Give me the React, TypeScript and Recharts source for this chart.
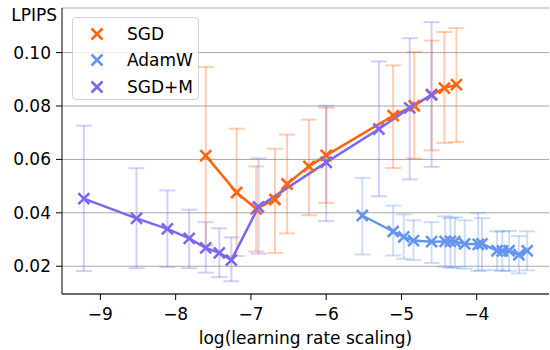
import { ComposedChart, Line, XAxis, YAxis, CartesianGrid, ErrorBar, ReferenceArea } from 'recharts'

const FONT = '"DejaVu Sans", sans-serif'

const SGD_COLOR = '#ff6410'
const ADAMW_COLOR = '#6495ed'
const SGDM_COLOR = '#7b68ee'

// SGD
const sgdX = [-7.6, -7.19, -6.93, -6.68, -6.52, -6.23, -6.0, -5.11, -4.83, -4.6, -4.43, -4.27]
const sgdY = [0.0614, 0.0476, 0.0415, 0.045, 0.0508, 0.0574, 0.0615, 0.0764, 0.0801, 0.0842, 0.0867, 0.088]
const sgdLo = [0.0278, 0.0238, 0.0255, 0.025, 0.0323, 0.0391, 0.0437, 0.0568, 0.0603, 0.0634, 0.0662, 0.0665]
const sgdHi = [0.0946, 0.0715, 0.0574, 0.064, 0.0693, 0.0749, 0.0793, 0.0952, 0.1002, 0.1045, 0.1077, 0.1092]

// AdamW
const adamX = [-5.52, -5.11, -4.97, -4.84, -4.6, -4.42, -4.35, -4.29, -4.16, -3.98, -3.93, -3.73, -3.66, -3.57, -3.44, -3.33]
const adamY = [0.039, 0.033, 0.031, 0.0296, 0.0292, 0.0293, 0.0293, 0.0292, 0.0284, 0.0282, 0.0284, 0.0258, 0.0257, 0.0258, 0.0243, 0.0258]
const adamLo = [0.0244, 0.024, 0.0228, 0.0223, 0.0212, 0.0198, 0.0194, 0.0196, 0.0191, 0.0182, 0.0185, 0.0185, 0.0182, 0.0183, 0.0173, 0.0185]
const adamHi = [0.0531, 0.0427, 0.0394, 0.0372, 0.0365, 0.0387, 0.038, 0.0383, 0.0372, 0.04, 0.038, 0.0331, 0.033, 0.0332, 0.0313, 0.0331]

// SGD+M
const sgdmX = [-9.22, -8.52, -8.11, -7.82, -7.6, -7.42, -7.26, -6.9, -6.0, -5.3, -4.89, -4.6]
const sgdmY = [0.0453, 0.0379, 0.034, 0.0304, 0.0269, 0.025, 0.0223, 0.0422, 0.0589, 0.0714, 0.0793, 0.0842]
const sgdmLo = [0.0182, 0.0193, 0.0197, 0.0193, 0.0176, 0.0159, 0.0144, 0.0247, 0.0369, 0.0462, 0.0525, 0.0572]
const sgdmHi = [0.0726, 0.0567, 0.0484, 0.0412, 0.0365, 0.0342, 0.0308, 0.0604, 0.0801, 0.0967, 0.1054, 0.1114]

const xTicks = [-9, -8, -7, -6, -5, -4]
const yTicks = [0.02, 0.04, 0.06, 0.08, 0.1]

const build = (xs: number[], ys: number[], lo: number[], hi: number[]) =>
  xs.map((x, i) => ({ x, y: ys[i], err: [ys[i] - lo[i], hi[i] - ys[i]] }))

const sgd = build(sgdX, sgdY, sgdLo, sgdHi)
const adam = build(adamX, adamY, adamLo, adamHi)
const sgdm = build(sgdmX, sgdmY, sgdmLo, sgdmHi)

const series = [
  { name: 'SGD', data: sgd, color: SGD_COLOR },
  { name: 'AdamW', data: adam, color: ADAMW_COLOR },
  { name: 'SGD+M', data: sgdm, color: SGDM_COLOR },
]

function Cross({ cx, cy, color, r = 5.5 }: { cx?: number; cy?: number; color: string; r?: number }) {
  if (cx == null || cy == null) return null
  return (
    <g>
      <line x1={cx - r} y1={cy - r} x2={cx + r} y2={cy + r} stroke={color} strokeWidth={2.6} />
      <line x1={cx - r} y1={cy + r} x2={cx + r} y2={cy - r} stroke={color} strokeWidth={2.6} />
    </g>
  )
}

const fmtX = (v: number) => (v < 0 ? `\u2212${Math.abs(v)}` : `${v}`)

export default function App() {
  return (
    <div style={{ position: 'absolute', left: 0, top: 0, width: 550, height: 350, background: '#fff' }}>
      <ComposedChart width={550} height={350} margin={{ top: 8, right: 1, left: 0, bottom: 0 }}>
        <CartesianGrid vertical={false} stroke="#a8a8a8" strokeWidth={1} />
        <XAxis
          type="number"
          dataKey="x"
          domain={[-9.51, -3.04]}
          allowDataOverflow
          ticks={xTicks}
          tickFormatter={fmtX}
          height={56}
          tickSize={6}
          tickMargin={8}
          stroke="#000"
          tick={{ fill: '#000', fontSize: 17, fontFamily: FONT }}
          label={() => (
            <text x={305.5} y={344} textAnchor="middle" fontSize={17} fontFamily={FONT} fill="#000">
              log(learning rate scaling)
            </text>
          )}
        />
        <YAxis
          type="number"
          domain={[0.0096, 0.1167]}
          allowDataOverflow
          ticks={yTicks}
          tickFormatter={(v: number) => v.toFixed(2)}
          width={62}
          tickSize={6}
          tickMargin={5}
          stroke="#000"
          tick={{ fill: '#000', fontSize: 17, fontFamily: FONT }}
          label={() => (
            <text x={57} y={21} textAnchor="end" fontSize={17} fontFamily={FONT} fill="#000">
              LPIPS
            </text>
          )}
        />
        {series.map((s) => (
          <Line
            key={`bars-${s.name}`}
            data={s.data}
            dataKey="y"
            stroke="none"
            dot={false}
            activeDot={false}
            legendType="none"
            isAnimationActive={false}
          >
            <ErrorBar dataKey="err" width={8} stroke={s.color} strokeOpacity={0.32} strokeWidth={2} direction="y" />
          </Line>
        ))}
        {series.map((s) => (
          <Line
            key={s.name}
            data={s.data}
            dataKey="y"
            name={s.name}
            stroke={s.color}
            strokeWidth={2.5}
            dot={(p: any) => <Cross key={`${s.name}-${p.index}`} cx={p.cx} cy={p.cy} color={s.color} />}
            activeDot={false}
            isAnimationActive={false}
          />
        ))}
        <ReferenceArea fill="none" stroke="#000" strokeWidth={1} ifOverflow="visible" />
      </ComposedChart>
      <div
        style={{
          position: 'absolute',
          left: 72,
          top: 17,
          width: 127,
          height: 83,
          boxSizing: 'border-box',
          border: '1px solid #d3d3d3',
          borderRadius: 4,
          background: 'rgba(255,255,255,0.8)',
          fontFamily: FONT,
          fontSize: 17,
          color: '#000',
        }}
      >
        {series.map((s, i) => (
          <div key={s.name} style={{ position: 'absolute', left: 0, top: 15.7 + i * 26.5 - 10, height: 20, width: 125 }}>
            <svg width={20} height={20} style={{ position: 'absolute', left: 14, top: 0 }}>
              <Cross cx={10} cy={10} color={s.color} />
            </svg>
            <span style={{ position: 'absolute', left: 54, top: 0, lineHeight: '20px', whiteSpace: 'nowrap' }}>{s.name}</span>
          </div>
        ))}
      </div>
    </div>
  )
}
